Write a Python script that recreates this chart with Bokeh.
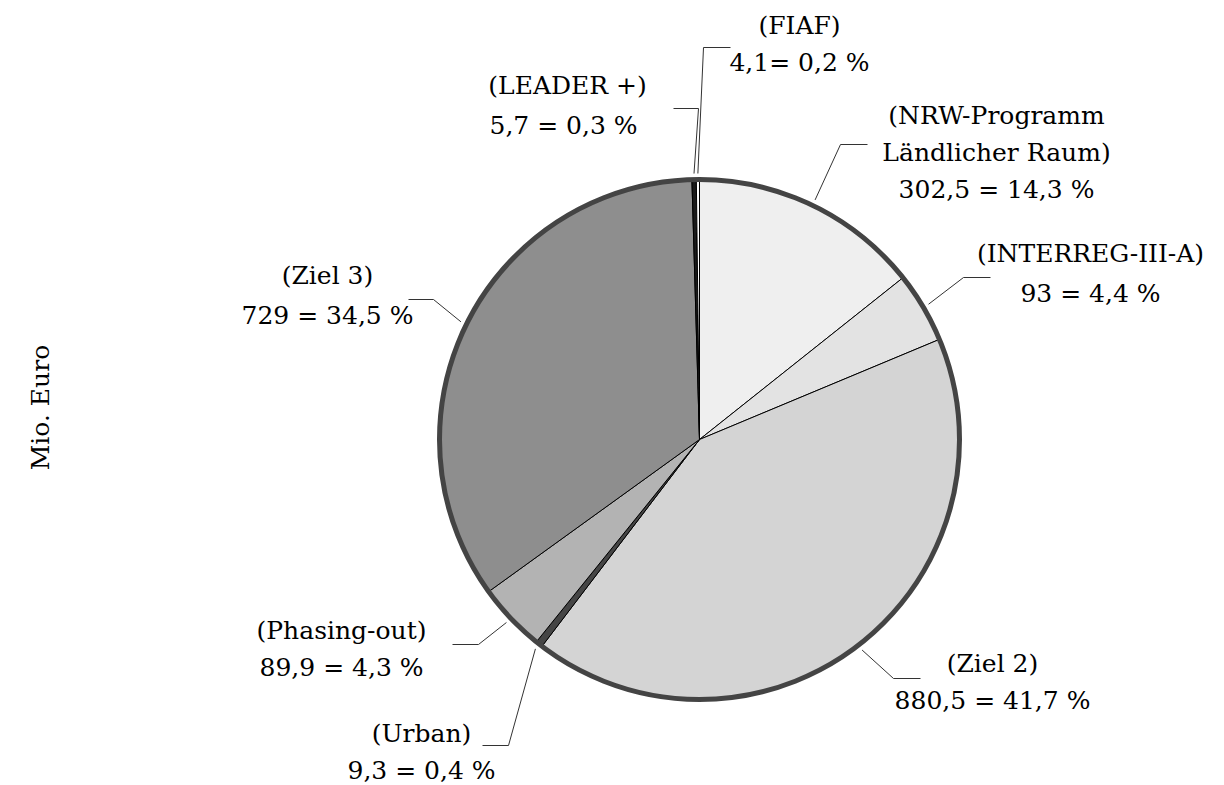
import math
from bokeh.plotting import figure
from bokeh.models import Range1d, ColumnDataSource
from bokeh.embed import file_html
from bokeh.resources import INLINE
from bokeh.core.properties import value

# ---------------- data ----------------
categories = ["NRW-Programm Ländlicher Raum", "INTERREG-III-A", "Ziel 2", "Urban",
              "Phasing-out", "Ziel 3", "LEADER +", "FIAF"]
values = [302.5, 93, 880.5, 9.3, 89.9, 729, 5.7, 4.1]
label_texts = [
    "(NRW-Programm\nLändlicher Raum)\n302,5 = 14,3 %",
    "(INTERREG-III-A)\n93 = 4,4 %",
    "(Ziel 2)\n880,5 = 41,7 %",
    "(Urban)\n9,3 = 0,4 %",
    "(Phasing-out)\n89,9 = 4,3 %",
    "(Ziel 3)\n729 = 34,5 %",
    "(LEADER +)\n5,7  = 0,3 %",
    "(FIAF)\n4,1= 0,2 %",
]
axis_title = "Mio. Euro"

# ---------------- style / layout (page pixel coords) ----------------
colors = ["#efefef", "#e3e3e3", "#d4d4d4", "#454545", "#b3b3b3", "#8e8e8e", "#1a1a1a", "#ffffff"]
FONT = value("DejaVu Serif")
FONT_SIZE = "25px"
W, H = 1224, 785
CX, CY, R = 699, 439, 260
R_ANCHOR = 266
# label centre x, first-line y, line spacing
label_pos = [(996, 115, 37), (1090, 253, 40), (992, 663, 37), (421, 733, 37),
             (341, 630, 37), (327, 275, 40), (567, 85, 40), (799, 25, 37)]
# leader elbow (x, y) and end x
leader_layout = [(840, 144, 867), (963, 277, 990), (893, 678, 920), (508, 745, 482),
                 (478, 644, 452), (433, 299, 408), (698, 108, 673), (703, 47, 730)]


def px(x):
    return x


def py(y):
    return H - y


p = figure(width=W, height=H, x_range=Range1d(0, W), y_range=Range1d(0, H),
           output_backend="svg", toolbar_location=None, min_border=0,
           x_axis_type=None, y_axis_type=None)
p.grid.visible = False
p.outline_line_color = None
p.background_fill_color = "white"
p.border_fill_color = "white"

total = sum(values)
starts, ends, mids = [], [], []
cum = 0.0
for v in values:
    f0 = cum / total
    cum += v
    f1 = cum / total
    # clockwise from 12 o'clock
    starts.append(math.pi / 2 - 2 * math.pi * f1)
    ends.append(math.pi / 2 - 2 * math.pi * f0)
    mids.append((f0 + f1) / 2)

src = ColumnDataSource(dict(start=starts, end=ends, color=colors, cat=categories))
p.wedge(x=px(CX), y=py(CY), radius=R, start_angle="start", end_angle="end",
        fill_color="color", line_color="black", line_width=1, source=src)

# outer ring
p.scatter(x=[px(CX)], y=[py(CY)], size=2 * R, marker="circle",
          fill_color=None, line_color="#444444", line_width=5)

# leader lines
xs, ys = [], []
for m, (ex, ey, endx) in zip(mids, leader_layout):
    a = 2 * math.pi * m
    ax = CX + R_ANCHOR * math.sin(a)
    ay = CY - R_ANCHOR * math.cos(a)
    xs.append([px(ax), px(ex), px(endx)])
    ys.append([py(ay), py(ey), py(ey)])
p.multi_line(xs=xs, ys=ys, line_color="#333333", line_width=1)

# labels
tx, ty, tt = [], [], []
for txt, (lx, ly, sp) in zip(label_texts, label_pos):
    for i, line in enumerate(txt.split("\n")):
        tx.append(px(lx))
        ty.append(py(ly + i * sp))
        tt.append(line)
p.text(x=tx, y=ty, text=tt, text_font=FONT, text_font_size=FONT_SIZE,
       text_align="center", text_baseline="middle", text_color="black")

p.text(x=[px(40)], y=[py(407)], text=[axis_title], angle=math.pi / 2,
       text_font=FONT, text_font_size=FONT_SIZE,
       text_align="center", text_baseline="middle", text_color="black")

open("out.html", "w").write(file_html(p, INLINE))
